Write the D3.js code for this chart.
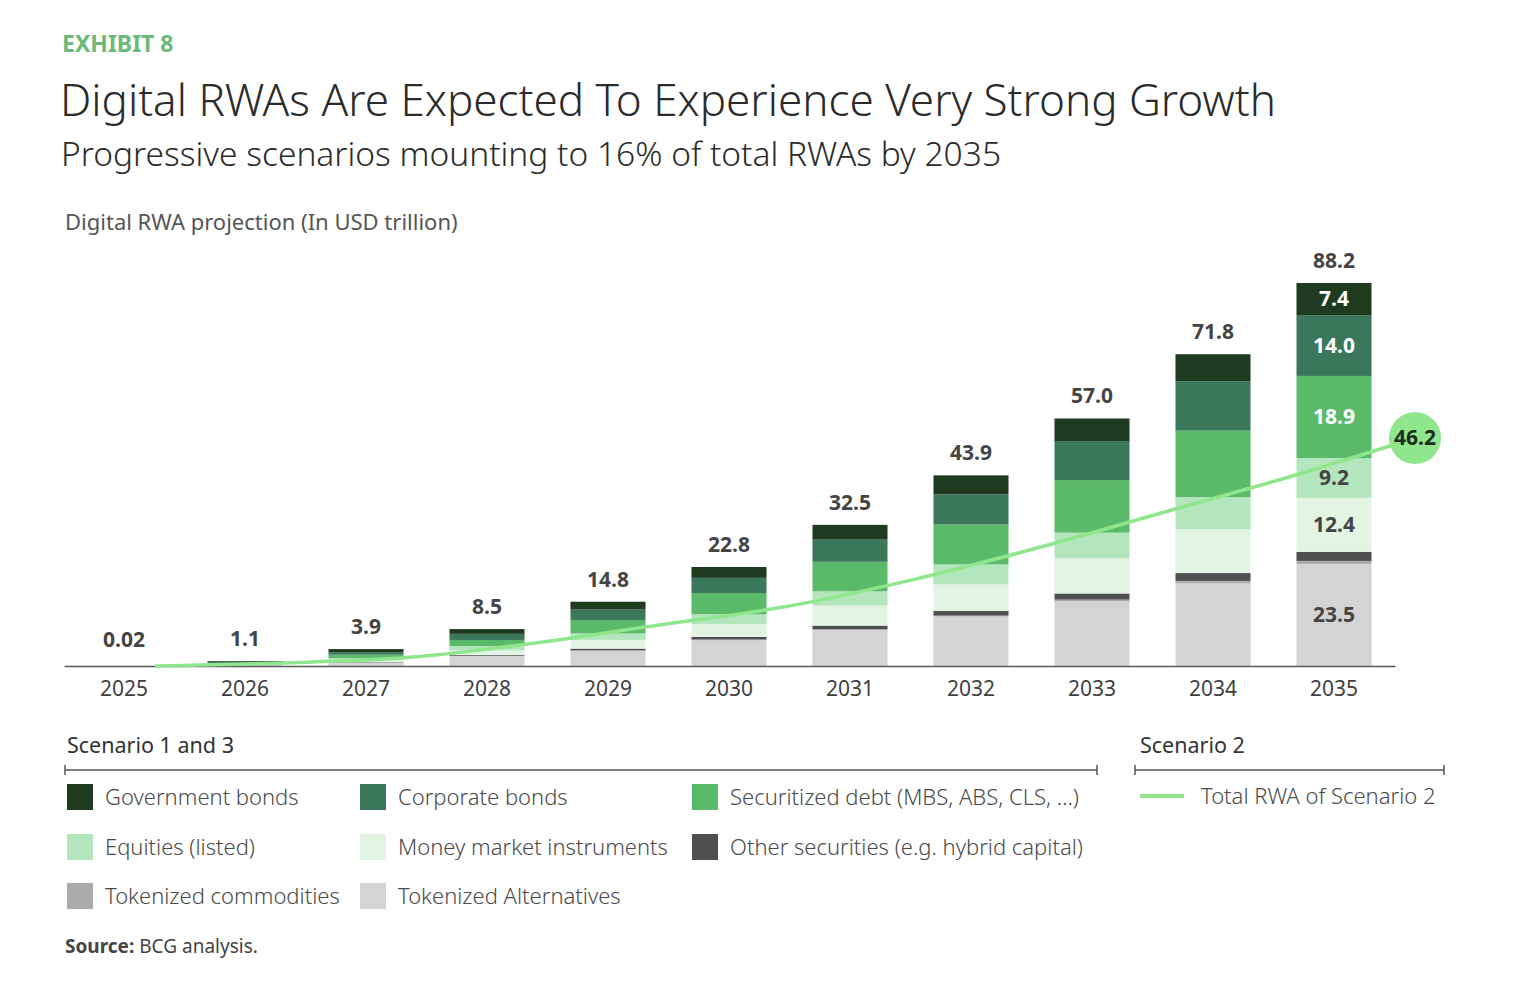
<!DOCTYPE html>
<html>
<head>
<meta charset="utf-8">
<script src="https://cdn.jsdelivr.net/npm/d3@7"></script>
<style>
  html, body { margin: 0; padding: 0; background: #fff; }
  svg { display: block; font-family: "Noto Sans", "Open Sans", sans-serif; }
</style>
</head>
<body>
<div id="chart"></div>
<script>
(function(d3) {

    "use strict";

    // categories
    var years = ["2025", "2026", "2027", "2028", "2029", "2030", "2031", "2032", "2033", "2034", "2035"];

    // series values, USD trillion (stack order bottom -> top)
    var tokenizedAlternatives = [0.005, 0.2, 0.8, 2.3, 3.5, 5.9, 8.3, 11.4, 14.9, 19.0, 23.5];
    var tokenizedCommodities  = [0, 0, 0, 0, 0.1, 0.2, 0.2, 0.2, 0.4, 0.6, 0.7];
    var otherSecurities       = [0, 0, 0.1, 0.2, 0.4, 0.6, 0.8, 1.1, 1.4, 1.8, 2.1];
    var moneyMarket           = [0, 0.1, 0.5, 1.1, 2.0, 2.9, 4.6, 6.1, 8.1, 10.1, 12.4];
    var equities              = [0, 0.1, 0.4, 1.0, 1.5, 2.3, 3.3, 4.6, 5.9, 7.4, 9.2];
    var securitizedDebt       = [0.005, 0.2, 0.8, 1.4, 3.1, 4.9, 6.8, 9.2, 12.1, 15.3, 18.9];
    var corporateBonds        = [0.005, 0.3, 0.6, 1.4, 2.4, 3.5, 5.1, 6.9, 9.0, 11.4, 14.0];
    var governmentBonds       = [0.005, 0.2, 0.7, 1.1, 1.8, 2.5, 3.4, 4.4, 5.2, 6.2, 7.4];

    // totals shown above bars
    var totalLabels = ["0.02", "1.1", "3.9", "8.5", "14.8", "22.8", "32.5", "43.9", "57.0", "71.8", "88.2"];

    // scenario 2 line
    var scenario2Total = [0, 0.6, 1.7, 4.6, 8.3, 12.0, 17.4, 23.9, 31.1, 38.3, 46.2];

    var seriesNames = [
        "Tokenized Alternatives", "Tokenized commodities", "Other securities (e.g. hybrid capital)",
        "Money market instruments", "Equities (listed)", "Securitized debt (MBS, ABS, CLS, \u2026)",
        "Corporate bonds", "Government bonds"
    ];
    var seriesValues = [
        tokenizedAlternatives, tokenizedCommodities, otherSecurities, moneyMarket,
        equities, securitizedDebt, corporateBonds, governmentBonds
    ];
    var seriesColors = ["#d4d4d4", "#ababab", "#4f4f4f", "#e1f5e2", "#b4e6bd", "#5bba6a", "#3b775a", "#1e3b20"];

    // legend layout order (rows of three)
    var legendOrder = [7, 6, 5, 4, 3, 2, 1, 0];

    var W = 1520, H = 1002;
    var baseY = 666;

    var svg = d3.select("#chart").append("svg")
        .attr("width", W)
        .attr("height", H);

    // header
    svg.append("text")
        .attr("x", 62).attr("y", 52)
        .style("font-size", "23px").style("font-weight", 700)
        .style("fill", "#6cb97a")
        .text("EXHIBIT 8");

    svg.append("text")
        .attr("x", 60).attr("y", 116)
        .style("font-size", "44px").style("font-weight", 300)
        .style("fill", "#2b2b2b")
        .text("Digital RWAs Are Expected To Experience Very Strong Growth");

    svg.append("text")
        .attr("x", 61).attr("y", 166)
        .style("font-size", "33.5px").style("font-weight", 300)
        .style("fill", "#2b2b2b")
        .text("Progressive scenarios mounting to 16% of total RWAs by 2035");

    svg.append("text")
        .attr("x", 65).attr("y", 230)
        .style("font-size", "22px")
        .style("fill", "#555")
        .text("Digital RWA projection (In USD trillion)");

    // scales
    var x = d3.scaleBand()
        .domain(years)
        .range([63.5, 1394.5])
        .paddingInner(0.38)
        .paddingOuter(0.19);

    var y = d3.scaleLinear()
        .domain([0, 88.2])
        .range([baseY, 283]);

    // line uses its own scale
    var xLine = d3.scalePoint()
        .domain(years)
        .range([155, 1415]);

    var yLine = d3.scaleLinear()
        .domain([0, 46.2])
        .range([baseY, 438]);

    // stack
    var table = years.map(function(yr, i) {
        var row = { year: yr };
        seriesNames.forEach(function(name, s) { row[name] = seriesValues[s][i]; });
        return row;
    });

    var stacked = d3.stack().keys(seriesNames)(table);

    var layers = svg.append("g").attr("class", "bars")
        .selectAll("g")
        .data(stacked)
        .enter()
        .append("g")
        .style("fill", function(d, i) { return seriesColors[i]; });

    layers.selectAll("rect")
        .data(function(d) { return d; })
        .enter()
        .append("rect")
        .attr("x", function(d) { return x(d.data.year); })
        .attr("y", function(d) { return y(d[1]); })
        .attr("width", x.bandwidth())
        .attr("height", function(d) { return Math.max(0, y(d[0]) - y(d[1])); });

    // axis
    var axis = svg.append("g")
        .attr("transform", "translate(0," + baseY + ")")
        .call(d3.axisBottom(x).tickSize(0).tickPadding(15));
    axis.select(".domain")
        .attr("d", "M64.5,0.5H1395.5")
        .style("stroke", "#5a5a5a").style("stroke-width", 1.5);
    axis.selectAll(".tick text")
        .style("font-family", "'Noto Sans', sans-serif")
        .style("font-size", "21px")
        .style("fill", "#3f3f3f");

    // totals above bars
    svg.append("g").selectAll("text")
        .data(years)
        .enter()
        .append("text")
        .attr("x", function(d) { return x(d) + x.bandwidth() / 2; })
        .attr("y", function(d, i) {
            var top = d3.sum(seriesValues, function(s) { return s[i]; });
            return Math.min(y(top), baseY - 4) - 15;
        })
        .attr("text-anchor", "middle")
        .style("font-size", "21px").style("font-weight", 700)
        .style("fill", "#444")
        .text(function(d, i) { return totalLabels[i]; });

    // segment labels on last bar
    var last = years.length - 1;
    var labelled = [0, 3, 4, 5, 6, 7];
    var darkText = [false, false, false, false, false, true, true, true];
    svg.append("g").selectAll("text")
        .data(labelled)
        .enter()
        .append("text")
        .attr("x", x(years[last]) + x.bandwidth() / 2)
        .attr("y", function(s) {
            var seg = stacked[s][last];
            return (y(seg[0]) + y(seg[1])) / 2 + 7;
        })
        .attr("text-anchor", "middle")
        .style("font-size", "21px").style("font-weight", 700)
        .style("fill", function(s) { return darkText[s] ? "#ffffff" : "#444"; })
        .text(function(s) { return seriesValues[s][last].toFixed(1); });

    // scenario 2 line
    var line = d3.line()
        .x(function(d, i) { return xLine(years[i]); })
        .y(function(d) { return yLine(d); })
        .curve(d3.curveMonotoneX);

    svg.append("path")
        .datum(scenario2Total)
        .attr("d", line)
        .style("fill", "none")
        .style("stroke", "#8fe68c")
        .style("stroke-width", 3.5);

    svg.append("circle")
        .attr("cx", xLine(years[last]))
        .attr("cy", yLine(scenario2Total[last]))
        .attr("r", 26)
        .style("fill", "#8fe68c");

    svg.append("text")
        .attr("x", xLine(years[last]))
        .attr("y", yLine(scenario2Total[last]) + 7)
        .attr("text-anchor", "middle")
        .style("font-size", "21px").style("font-weight", 700)
        .style("fill", "#1c2e1c")
        .text(scenario2Total[last].toFixed(1));

    // legend headers with brackets
    function bracket(x0, x1, yy) {
        var g = svg.append("g").style("stroke", "#555").style("stroke-width", 1.5);
        g.append("line").attr("x1", x0).attr("x2", x1).attr("y1", yy).attr("y2", yy);
        g.append("line").attr("x1", x0).attr("x2", x0).attr("y1", yy - 5).attr("y2", yy + 5);
        g.append("line").attr("x1", x1).attr("x2", x1).attr("y1", yy - 5).attr("y2", yy + 5);
    }

    svg.append("text")
        .attr("x", 67).attr("y", 753)
        .style("font-size", "21.5px").style("fill", "#333")
        .text("Scenario 1 and 3");
    bracket(65, 1097, 770);

    svg.append("text")
        .attr("x", 1140).attr("y", 753)
        .style("font-size", "21.5px").style("fill", "#333")
        .text("Scenario 2");
    bracket(1135, 1444, 770);

    var colX = [67, 360, 692];
    var rowY = [797, 847, 896];

    var items = svg.append("g").selectAll("g")
        .data(legendOrder)
        .enter()
        .append("g")
        .attr("transform", function(s, i) {
            return "translate(" + colX[i % 3] + "," + rowY[Math.floor(i / 3)] + ")";
        });

    items.append("rect")
        .attr("x", 0).attr("y", -13)
        .attr("width", 26).attr("height", 26)
        .style("fill", function(s) { return seriesColors[s]; });

    items.append("text")
        .attr("x", 38).attr("y", 8)
        .style("font-size", "22px").style("font-weight", 300)
        .style("fill", "#4a4a4a")
        .text(function(s) { return seriesNames[s]; });

    svg.append("line")
        .attr("x1", 1140).attr("x2", 1184)
        .attr("y1", 796).attr("y2", 796)
        .style("stroke", "#8fe68c").style("stroke-width", 4);

    svg.append("text")
        .attr("x", 1201).attr("y", 804)
        .style("font-size", "22px").style("font-weight", 300)
        .style("fill", "#4a4a4a")
        .text("Total RWA of Scenario 2");

    // source
    var src = svg.append("text")
        .attr("x", 65).attr("y", 953)
        .style("font-size", "19px")
        .style("fill", "#444");
    src.append("tspan").style("font-weight", 700).text("Source:");
    src.append("tspan").text(" BCG analysis.");

})(d3);
</script>
</body>
</html>
